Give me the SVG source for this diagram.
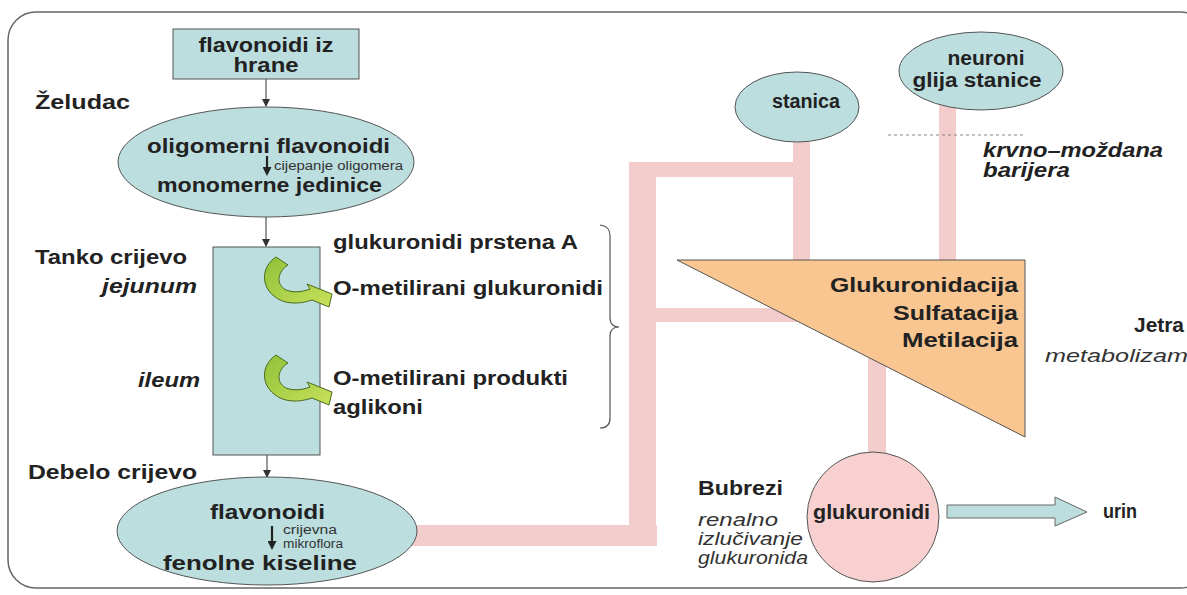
<svg xmlns="http://www.w3.org/2000/svg" width="1187" height="595" viewBox="0 0 1187 595">
<style>
.b{font-family:"Liberation Sans",Arial,sans-serif;font-weight:bold;font-size:20px;fill:#222}
.bi{font-family:"Liberation Sans",Arial,sans-serif;font-weight:bold;font-style:italic;font-size:20px;fill:#222}
.i{font-family:"Liberation Sans",Arial,sans-serif;font-style:italic;font-size:19px;fill:#333}
.s{font-family:"Liberation Sans",Arial,sans-serif;font-size:12px;fill:#333}
.node{fill:#bcdedf;stroke:#555;stroke-width:1}
.pipe{fill:#f3cccc}
.thin{stroke:#333;stroke-width:1;fill:none}
.thick{stroke:#222;stroke-width:2.2;fill:none}
</style>
<defs>
<marker id="ah" markerWidth="8" markerHeight="8" refX="7" refY="4" orient="auto" markerUnits="userSpaceOnUse"><path d="M0,0 L8,4 L0,8 Z" fill="#333"/></marker>
<marker id="ah2" markerWidth="9" markerHeight="9" refX="5" refY="4.5" orient="auto" markerUnits="userSpaceOnUse"><path d="M0,0 L9,4.5 L0,9 Z" fill="#222"/></marker>
<linearGradient id="gg" x1="0" y1="0" x2="1" y2="1"><stop offset="0" stop-color="#8fc23a"/><stop offset="1" stop-color="#c9e05a"/></linearGradient>
<path id="garrow" d="M -1,0 L 11,8 C 1,14 -2,27 9,33 C 17,36 25,35 33,32 L 30,27 L 55,37 L 52,50 L 35,43 C 21,48 6,47 -3,39 C -16,29 -16,10 -1,0 Z" fill="url(#gg)" stroke="#4a6b1e" stroke-width="1"/>
</defs>
<rect width="1187" height="595" fill="#fff"/>
<rect x="8" y="12" width="1200" height="576" rx="28" fill="none" stroke="#666" stroke-width="1.5"/>

<g id="connectors">
<rect class="pipe" x="405" y="525" width="252" height="21"/>
<rect class="pipe" x="629" y="162" width="27" height="384"/>
<rect class="pipe" x="629" y="162" width="181" height="15"/>
<rect class="pipe" x="793" y="130" width="17" height="135"/>
<rect class="pipe" x="656" y="308" width="160" height="14"/>
<rect class="pipe" x="939" y="100" width="17" height="165"/>
<rect class="pipe" x="868" y="300" width="18" height="165"/>
<line class="thin" x1="266" y1="79" x2="266" y2="106" marker-end="url(#ah)"/>
<line class="thin" x1="266" y1="217" x2="266" y2="246" marker-end="url(#ah)"/>
<line class="thin" x1="267" y1="455" x2="267" y2="477" marker-end="url(#ah)"/>
<line x1="888" y1="135" x2="1025" y2="135" stroke="#888" stroke-width="1" stroke-dasharray="3,3"/>
<path d="M 600,225 Q 610,226 610,236 L 610,318 Q 610,327 619,327 Q 610,327 610,336 L 610,418 Q 610,428 600,428" fill="none" stroke="#555" stroke-width="1.2"/>
<path d="M 947,505 L 1055,505 L 1055,497 L 1087,512 L 1055,526 L 1055,518 L 947,518 Z" fill="#bcdedf" stroke="#666" stroke-width="1"/>
</g>

<g id="food">
<rect class="node" x="173" y="29" width="186" height="50"/>
<text class="b" x="266" y="52" text-anchor="middle" textLength="135" lengthAdjust="spacingAndGlyphs">flavonoidi iz</text>
<text class="b" x="266" y="72" text-anchor="middle" textLength="65" lengthAdjust="spacingAndGlyphs">hrane</text>
</g>

<g id="labels-left">
<text class="b" x="35" y="109" textLength="95" lengthAdjust="spacingAndGlyphs">Želudac</text>
<text class="b" x="35" y="264" textLength="152" lengthAdjust="spacingAndGlyphs">Tanko crijevo</text>
<text class="bi" x="102" y="293" textLength="95" lengthAdjust="spacingAndGlyphs">jejunum</text>
<text class="bi" x="138" y="387" textLength="62" lengthAdjust="spacingAndGlyphs">ileum</text>
<text class="b" x="28" y="479" textLength="169" lengthAdjust="spacingAndGlyphs">Debelo crijevo</text>
</g>

<g id="stomach">
<ellipse class="node" cx="266" cy="162" rx="148" ry="55"/>
<text class="b" x="147" y="153" font-size="21" textLength="243" lengthAdjust="spacingAndGlyphs">oligomerni flavonoidi</text>
<line class="thick" x1="267" y1="156" x2="267" y2="172" marker-end="url(#ah2)"/>
<text class="s" x="274" y="170" textLength="129" lengthAdjust="spacingAndGlyphs">cijepanje oligomera</text>
<text class="b" x="157" y="192" font-size="21" textLength="225" lengthAdjust="spacingAndGlyphs">monomerne jedinice</text>
</g>

<g id="small-intestine">
<rect class="node" x="213" y="247" width="107" height="208"/>
<use href="#garrow" x="277" y="257"/>
<use href="#garrow" x="277" y="355"/>
<text class="b" x="333" y="249" textLength="245" lengthAdjust="spacingAndGlyphs">glukuronidi prstena A</text>
<text class="b" x="333" y="295" textLength="270" lengthAdjust="spacingAndGlyphs">O-metilirani glukuronidi</text>
<text class="b" x="333" y="385" textLength="235" lengthAdjust="spacingAndGlyphs">O-metilirani produkti</text>
<text class="b" x="333" y="414" textLength="90" lengthAdjust="spacingAndGlyphs">aglikoni</text>
</g>

<g id="colon">
<ellipse class="node" cx="267" cy="531" rx="150" ry="54"/>
<text class="b" x="210" y="519" font-size="21" textLength="115" lengthAdjust="spacingAndGlyphs">flavonoidi</text>
<line class="thick" x1="272" y1="526" x2="272" y2="546" marker-end="url(#ah2)"/>
<text class="s" x="283" y="534" textLength="54" lengthAdjust="spacingAndGlyphs">crijevna</text>
<text class="s" x="283" y="548" textLength="60" lengthAdjust="spacingAndGlyphs">mikroflora</text>
<text class="b" x="163" y="570" font-size="21" textLength="194" lengthAdjust="spacingAndGlyphs">fenolne kiseline</text>
</g>

<g id="stanica">
<ellipse class="node" cx="797" cy="107" rx="62" ry="35"/>
<text class="b" x="806" y="108" text-anchor="middle" textLength="68" lengthAdjust="spacingAndGlyphs">stanica</text>
</g>

<g id="neuroni">
<ellipse class="node" cx="981" cy="71" rx="82" ry="39"/>
<text class="b" x="986" y="65" text-anchor="middle" textLength="77" lengthAdjust="spacingAndGlyphs">neuroni</text>
<text class="b" x="977" y="87" text-anchor="middle" textLength="129" lengthAdjust="spacingAndGlyphs">glija stanice</text>
</g>

<g id="barrier">
<text class="bi" x="983" y="157" textLength="180" lengthAdjust="spacingAndGlyphs">krvno–moždana</text>
<text class="bi" x="983" y="177" textLength="87" lengthAdjust="spacingAndGlyphs">barijera</text>
</g>

<g id="liver">
<polygon points="677,260 1025,260 1025,437" fill="#f9c692" stroke="#555" stroke-width="1"/>
<text class="b" x="1018" y="292" text-anchor="end" textLength="188" lengthAdjust="spacingAndGlyphs">Glukuronidacija</text>
<text class="b" x="1018" y="320" text-anchor="end" textLength="125" lengthAdjust="spacingAndGlyphs">Sulfatacija</text>
<text class="b" x="1018" y="347" text-anchor="end" textLength="116" lengthAdjust="spacingAndGlyphs">Metilacija</text>
<text class="b" x="1184" y="332" text-anchor="end" textLength="50" lengthAdjust="spacingAndGlyphs">Jetra</text>
<text class="i" x="1045" y="362" textLength="143" lengthAdjust="spacingAndGlyphs">metabolizam</text>
</g>

<g id="kidney">
<ellipse cx="873" cy="517" rx="66" ry="65" fill="#f8d0d0" stroke="#555" stroke-width="1"/>
<text class="b" x="813" y="519" textLength="117" lengthAdjust="spacingAndGlyphs">glukuronidi</text>
<text class="b" x="698" y="495" textLength="85" lengthAdjust="spacingAndGlyphs">Bubrezi</text>
<text class="i" x="698" y="526" textLength="80" lengthAdjust="spacingAndGlyphs">renalno</text>
<text class="i" x="698" y="545" textLength="105" lengthAdjust="spacingAndGlyphs">izlučivanje</text>
<text class="i" x="698" y="564" textLength="110" lengthAdjust="spacingAndGlyphs">glukuronida</text>
</g>

<g id="urin">
<text class="b" x="1103" y="518" textLength="34" lengthAdjust="spacingAndGlyphs">urin</text>
</g>
</svg>
